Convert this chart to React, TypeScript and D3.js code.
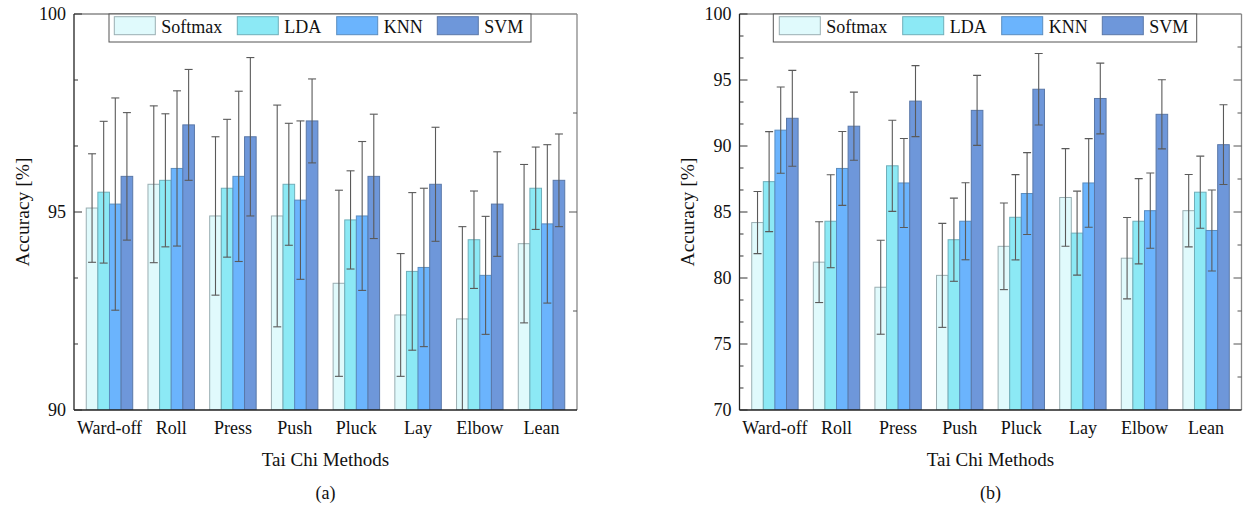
import React from "react";
import * as d3 from "d3";

const categories = ["Ward-off", "Roll", "Press", "Push", "Pluck", "Lay", "Elbow", "Lean"];
const seriesNames = ["Softmax", "LDA", "KNN", "SVM"];
const seriesFill = ["#E0FAFC", "#8CE9F5", "#6BB4FD", "#6E97DA"];
const seriesStroke = ["#9AAEB2", "#6FAFBA", "#5A8DC0", "#5A78A8"];

// Panel (a)
const aSoftmax = [95.1, 95.7, 94.9, 94.9, 93.2, 92.4, 92.3, 94.2];
const aSoftmaxErr = [1.37, 1.98, 2.0, 2.8, 2.35, 1.55, 2.33, 2.0];
const aLDA = [95.5, 95.8, 95.6, 95.7, 94.8, 93.5, 94.3, 95.6];
const aLDAErr = [1.79, 1.68, 1.74, 1.54, 1.24, 1.99, 1.23, 1.04];
const aKNN = [95.2, 96.1, 95.9, 95.3, 94.9, 93.6, 93.4, 94.7];
const aKNNErr = [2.68, 1.96, 2.15, 2.0, 1.88, 2.0, 1.49, 2.0];
const aSVM = [95.9, 97.2, 96.9, 97.3, 95.9, 95.7, 95.2, 95.8];
const aSVMErr = [1.61, 1.4, 2.0, 1.06, 1.57, 1.44, 1.32, 1.17];

// Panel (b)
const bSoftmax = [84.2, 81.2, 79.3, 80.2, 82.4, 86.1, 81.5, 85.1];
const bSoftmaxErr = [2.35, 3.06, 3.56, 3.94, 3.28, 3.7, 3.08, 2.74];
const bLDA = [87.3, 84.3, 88.5, 82.9, 84.6, 83.4, 84.3, 86.5];
const bLDAErr = [3.79, 3.52, 3.45, 3.15, 3.23, 3.18, 3.23, 2.73];
const bKNN = [91.2, 88.3, 87.2, 84.3, 86.4, 87.2, 85.1, 83.6];
const bKNNErr = [3.27, 2.8, 3.37, 2.92, 3.1, 3.36, 2.85, 3.07];
const bSVM = [92.1, 91.5, 93.4, 92.7, 94.3, 93.6, 92.4, 90.1];
const bSVMErr = [3.63, 2.58, 2.69, 2.65, 2.71, 2.68, 2.62, 3.02];

const aLeftMajor = [90, 95, 100];
const aLeftMinor = [91.667, 93.333, 96.667, 98.333];
const aRightMajor = [95];
const aRightMinor = [92.5, 97.5];
const bLeftMajor = [70, 75, 80, 85, 90, 95, 100];
const bLeftMinor = [71.667, 73.333, 76.667, 78.333, 81.667, 83.333, 86.667, 88.333, 91.667, 93.333, 96.667, 98.333];
const bRightMajor = [75, 80, 85, 90, 95];
const bRightMinor = [72.5, 77.5, 82.5, 87.5, 92.5, 97.5];

const FONT = "Liberation Serif, Times New Roman, Times, serif";
const textStyle = { fontFamily: FONT };

type PanelProps = {
  left: number;
  right: number;
  domain: [number, number];
  values: number[][];
  errors: number[][];
  leftMajor: number[];
  leftMinor: number[];
  rightMajor: number[];
  rightMinor: number[];
  legendX: number;
  legendW: number;
  legendItemX: number[];
  label: string;
  id: string;
};

function Panel(p: PanelProps) {
  const top = 14;
  const bottom = 410;
  const y = d3.scaleLinear().domain(p.domain).range([bottom, top]);
  const pad = 0.575;
  const x = d3.scaleLinear().domain([1 - pad, categories.length + pad]).range([p.left, p.right]);
  const step = x(2) - x(1);
  const groupW = step * 0.753;
  const barW = groupW / seriesNames.length;
  const cx = (p.left + p.right) / 2;
  const clipId = "clip-" + p.id;
  return (
    <g style={textStyle}>
      <defs>
        <clipPath id={clipId}>
          <rect x={p.left} y={top} width={p.right - p.left} height={bottom - top} />
        </clipPath>
      </defs>
      <g clipPath={`url(#${clipId})`}>
        {categories.map((c, i) =>
          seriesNames.map((s, j) => {
            const v = p.values[j][i];
            const bx = x(i + 1) - groupW / 2 + j * barW;
            return (
              <rect
                key={c + s}
                x={bx}
                y={y(v)}
                width={barW}
                height={bottom - y(v)}
                fill={seriesFill[j]}
                stroke={seriesStroke[j]}
                strokeWidth={1}
              />
            );
          })
        )}
        {categories.map((c, i) =>
          seriesNames.map((s, j) => {
            const v = p.values[j][i];
            const e = p.errors[j][i];
            const ex = x(i + 1) - groupW / 2 + (j + 0.5) * barW;
            const capW = 4;
            return (
              <g key={"e" + c + s} stroke="#5a5a5a" strokeWidth={1.1}>
                <line x1={ex} x2={ex} y1={y(v + e)} y2={y(v - e)} />
                <line x1={ex - capW} x2={ex + capW} y1={y(v + e)} y2={y(v + e)} />
                <line x1={ex - capW} x2={ex + capW} y1={y(v - e)} y2={y(v - e)} />
              </g>
            );
          })
        )}
      </g>
      {/* frame */}
      <line x1={p.left} x2={p.right} y1={top} y2={top} stroke="#888" strokeWidth={1.3} />
      <line x1={p.right} x2={p.right} y1={top} y2={bottom} stroke="#888" strokeWidth={1.3} />
      <line x1={p.left} x2={p.left} y1={top} y2={bottom} stroke="#222" strokeWidth={1.3} />
      <line x1={p.left} x2={p.right} y1={bottom} y2={bottom} stroke="#222" strokeWidth={1.3} />
      {/* left ticks */}
      {p.leftMajor.map((t) => (
        <g key={"lm" + t}>
          <line x1={p.left} x2={p.left + 8} y1={y(t)} y2={y(t)} stroke="#333" strokeWidth={1} />
          <text x={p.left - 8} y={y(t)} dy="0.35em" textAnchor="end" style={textStyle} fontSize={18} fill="#111">
            {t}
          </text>
        </g>
      ))}
      {p.leftMinor.map((t) => (
        <line key={"ln" + t} x1={p.left} x2={p.left + 4} y1={y(t)} y2={y(t)} stroke="#333" strokeWidth={1} />
      ))}
      {p.rightMajor.map((t) => (
        <line key={"rm" + t} x1={p.right} x2={p.right - 8} y1={y(t)} y2={y(t)} stroke="#555" strokeWidth={1} />
      ))}
      {p.rightMinor.map((t) => (
        <line key={"rn" + t} x1={p.right} x2={p.right - 4} y1={y(t)} y2={y(t)} stroke="#555" strokeWidth={1} />
      ))}
      {/* category labels */}
      {categories.map((c, i) => (
        <text key={"c" + c} x={x(i + 1)} y={434} textAnchor="middle" style={textStyle} fontSize={18} fill="#111">
          {c}
        </text>
      ))}
      {/* axis titles */}
      <text
        transform={`translate(${p.left - 52},${(top + bottom) / 2}) rotate(-90)`}
        textAnchor="middle"
        dy="0.35em"
        style={textStyle}
        fontSize={19.5}
        fill="#111"
      >
        Accuracy [%]
      </text>
      <text x={cx} y={466} textAnchor="middle" style={textStyle} fontSize={19} fill="#111">
        Tai Chi Methods
      </text>
      <text x={cx} y={499} textAnchor="middle" style={textStyle} fontSize={18} fill="#111">
        {p.label}
      </text>
      {/* legend */}
      <rect x={p.legendX} y={top} width={p.legendW} height={28} fill="#fff" stroke="#555" strokeWidth={1} />
      {seriesNames.map((s, j) => (
        <g key={"lg" + s}>
          <rect
            x={p.legendItemX[j]}
            y={16.7}
            width={41}
            height={18}
            fill={seriesFill[j]}
            stroke={seriesStroke[j]}
            strokeWidth={1}
          />
          <text x={p.legendItemX[j] + 47} y={33} style={textStyle} fontSize={18} fill="#111">
            {s}
          </text>
        </g>
      ))}
    </g>
  );
}

export default function App() {
  return (
    <svg
      width={1250}
      height={508}
      viewBox="0 0 1250 508"
      style={{ position: "absolute", left: 0, top: 0, background: "#fff" }}
    >
      <rect width={1250} height={508} fill="#fff" />
      <Panel
        id="a"
        left={74}
        right={577}
        domain={[90, 100]}
        values={[aSoftmax, aLDA, aKNN, aSVM]}
        errors={[aSoftmaxErr, aLDAErr, aKNNErr, aSVMErr]}
        leftMajor={aLeftMajor}
        leftMinor={aLeftMinor}
        rightMajor={aRightMajor}
        rightMinor={aRightMinor}
        legendX={109}
        legendW={422}
        legendItemX={[114.3, 237.3, 336.7, 437.3]}
        label="(a)"
      />
      <Panel
        id="b"
        left={739.5}
        right={1241.5}
        domain={[70, 100]}
        values={[bSoftmax, bLDA, bKNN, bSVM]}
        errors={[bSoftmaxErr, bLDAErr, bKNNErr, bSVMErr]}
        leftMajor={bLeftMajor}
        leftMinor={bLeftMinor}
        rightMajor={bRightMajor}
        rightMinor={bRightMinor}
        legendX={773.3}
        legendW={423.4}
        legendItemX={[779.3, 902.7, 1001.7, 1102.3]}
        label="(b)"
      />
    </svg>
  );
}
